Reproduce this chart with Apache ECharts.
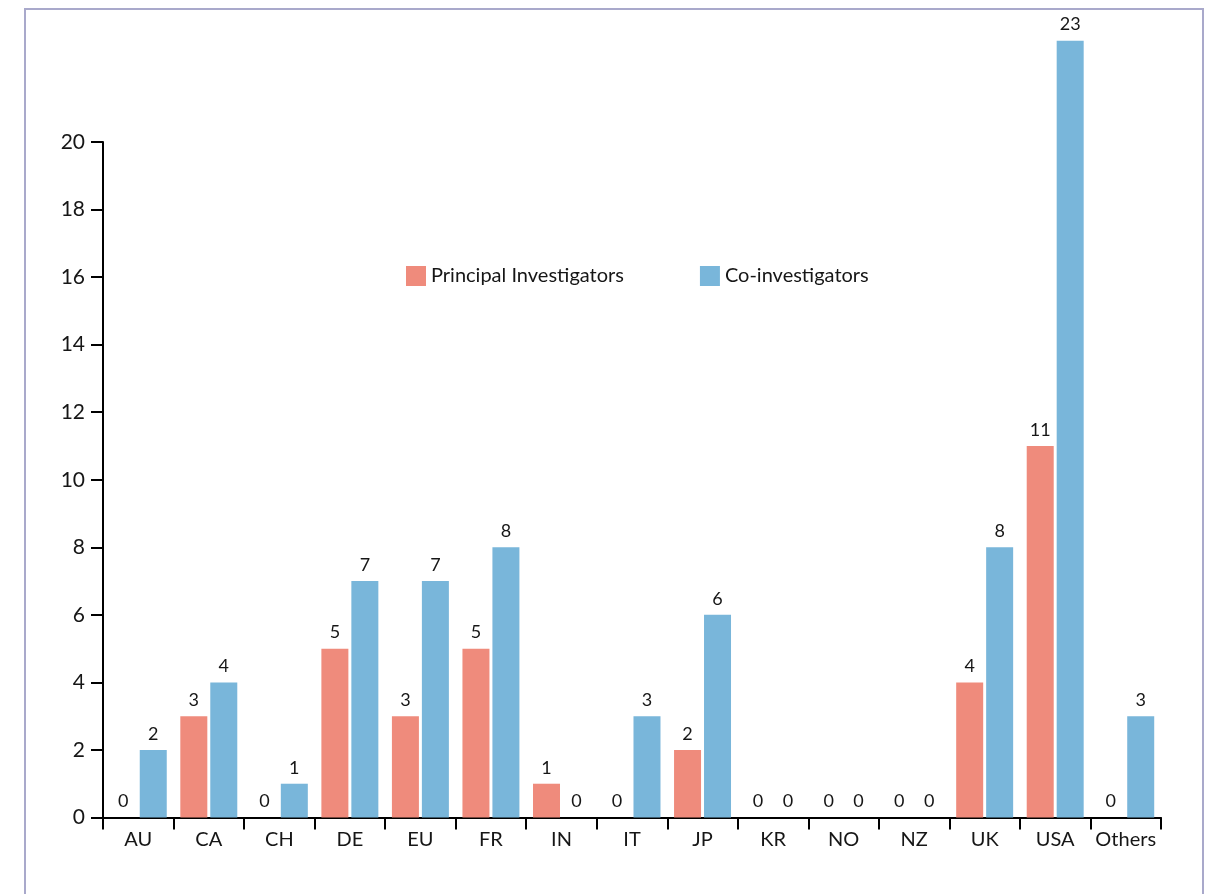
<!DOCTYPE html>
<html>
<head>
<meta charset="utf-8">
<title>Investigators by country</title>
<script src="https://cdn.jsdelivr.net/npm/echarts@6/dist/echarts.min.js"></script>
<style>
  html, body { margin: 0; padding: 0; background: #ffffff; }
  #chart { width: 1208px; height: 894px; }
</style>
</head>
<body>
<div id="chart"></div>
<script>
// Countries / groups along the x axis
const countries = ['AU', 'CA', 'CH', 'DE', 'EU', 'FR', 'IN', 'IT', 'JP', 'KR', 'NO', 'NZ', 'UK', 'USA', 'Others'];
// Number of principal investigators per country
const principalInvestigators = [0, 3, 0, 5, 3, 5, 1, 0, 2, 0, 0, 0, 4, 11, 0];
// Number of co-investigators per country
const coInvestigators = [2, 4, 1, 7, 7, 8, 0, 3, 6, 0, 0, 0, 8, 23, 3];
// Series names shown in the legend
const seriesNames = ['Principal Investigators', 'Co-investigators'];

const FONT = 'Lato, "Open Sans", sans-serif';
const INK = '#161616';
const RED = '#ef8b7c';
const BLUE = '#79b6da';

const chart = echarts.init(document.getElementById('chart'), null, { renderer: 'canvas' });

const barLabel = {
  show: true,
  position: 'top',
  distance: 7,
  color: INK,
  fontFamily: FONT,
  fontSize: 18
};

chart.setOption({
  animation: false,
  backgroundColor: '#ffffff',
  graphic: [{
    type: 'rect',
    shape: { x: 25, y: 9, width: 1178, height: 900 },
    style: { fill: 'none', stroke: '#a9a9cb', lineWidth: 2 },
    silent: true,
    z: -1
  }],
  grid: { left: 103, right: 47, top: 142, bottom: 76.5, containLabel: false },
  legend: {
    data: seriesNames,
    left: 401,
    top: 261,
    itemWidth: 20,
    itemHeight: 20,
    itemGap: 76,
    icon: 'rect',
    textStyle: { color: INK, fontFamily: FONT, fontSize: 20 }
  },
  xAxis: {
    type: 'category',
    data: countries,
    boundaryGap: true,
    axisLine: { show: true, lineStyle: { color: '#000', width: 2 } },
    axisTick: { show: true, inside: false, length: 12, lineStyle: { color: '#000', width: 2 } },
    axisLabel: { color: INK, fontFamily: FONT, fontSize: 20, margin: 12, interval: 0 },
    splitLine: { show: false }
  },
  yAxis: {
    type: 'value',
    min: 0,
    max: 20,
    interval: 2,
    axisLine: { show: true, lineStyle: { color: '#000', width: 2 } },
    axisTick: { show: true, inside: false, length: 12, lineStyle: { color: '#000', width: 2 } },
    axisLabel: { color: INK, fontFamily: FONT, fontSize: 21, margin: 18 },
    splitLine: { show: false }
  },
  series: [
    {
      name: seriesNames[0],
      type: 'bar',
      data: principalInvestigators,
      barWidth: 27,
      barGap: '11%',
      clip: false,
      itemStyle: { color: RED },
      label: barLabel
    },
    {
      name: seriesNames[1],
      type: 'bar',
      data: coInvestigators,
      barWidth: 27,
      barGap: '11%',
      clip: false,
      itemStyle: { color: BLUE },
      label: barLabel
    }
  ]
});
</script>
</body>
</html>
